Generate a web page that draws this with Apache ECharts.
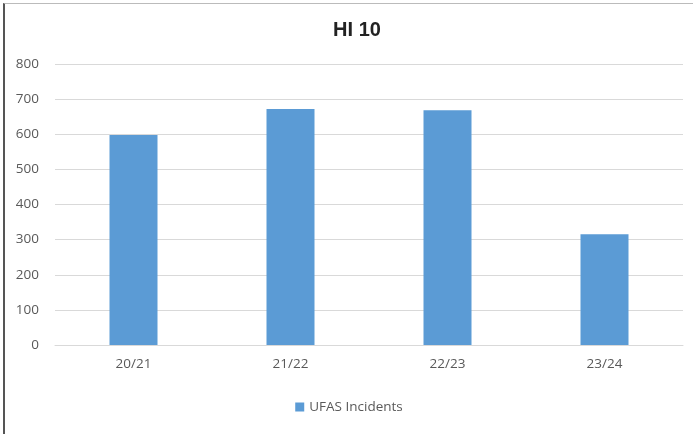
<!DOCTYPE html>
<html>
<head>
<meta charset="utf-8">
<script src="https://cdn.jsdelivr.net/npm/echarts@6/dist/echarts.min.js"></script>
<style>
  html, body { margin: 0; padding: 0; background: #fff; }
  #chart {
    position: absolute; left: 3px; top: 3px; width: 690px; height: 431px;
    border-left: 2px solid #555; border-top: 1px solid #bbb; box-sizing: border-box;
  }
</style>
</head>
<body>
<div id="chart"></div>
<script>
const categories = ["20/21", "21/22", "22/23", "23/24"];
const ufasIncidents = [598, 672, 668, 315];
const seriesName = "UFAS Incidents";

const chart = echarts.init(document.getElementById("chart"));

chart.setOption({
  animation: false,
  title: {
    text: "HI 10",
    left: 347,
    top: 11,
    textAlign: "center",
    textStyle: { fontFamily: "Liberation Sans", fontSize: 20, fontWeight: "bold", color: "#222" }
  },
  legend: {
    bottom: 15,
    left: "center",
    itemWidth: 9,
    itemHeight: 9,
    icon: "rect",
    textStyle: { fontFamily: "Open Sans", fontSize: 13.5, color: "#595959" },
    data: [seriesName]
  },
  grid: { left: 50, right: 10, top: 60, bottom: 89 },
  xAxis: {
    type: "category",
    data: categories,
    axisTick: { show: false },
    axisLine: { lineStyle: { color: "#d9d9d9" } },
    axisLabel: { fontFamily: "Open Sans", fontSize: 13.5, color: "#595959", margin: 12 }
  },
  yAxis: {
    type: "value",
    min: 0,
    max: 800,
    interval: 100,
    axisLine: { show: false },
    axisTick: { show: false },
    axisLabel: { fontFamily: "Open Sans", fontSize: 13.5, color: "#595959", margin: 16 },
    splitLine: { lineStyle: { color: "#d9d9d9" } }
  },
  series: [
    {
      name: seriesName,
      type: "bar",
      data: ufasIncidents,
      barWidth: 48,
      itemStyle: { color: "#5b9bd5" }
    }
  ]
});
</script>
</body>
</html>
